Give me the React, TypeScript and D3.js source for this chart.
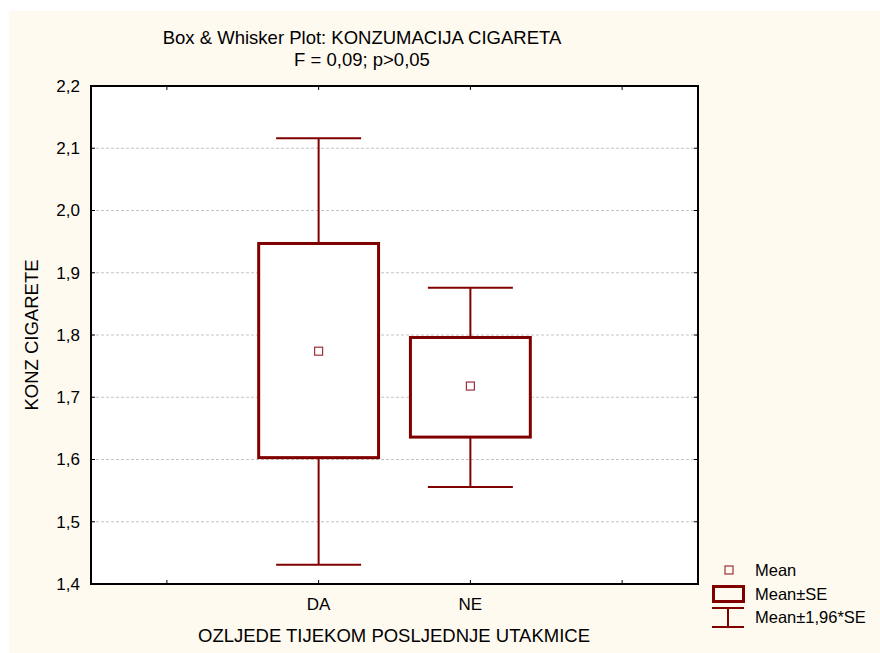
import * as d3 from "d3";

// values
const slots = ["", "DA", "NE", " "];
const groups = ["DA", "NE"];
const means = [1.774, 1.718];
const seLow = [1.603, 1.636];
const seHigh = [1.947, 1.796];
const ciLow = [1.431, 1.556];
const ciHigh = [2.116, 1.876];
const yTicks = [1.4, 1.5, 1.6, 1.7, 1.8, 1.9, 2.0, 2.1, 2.2];

const W = 880;
const H = 653;
const plot = { left: 91, right: 698, top: 86, bottom: 584 };
const red = "#800000";
const font = "'Liberation Sans', Arial, sans-serif";

const fmt = (v: number) => v.toFixed(1).replace(".", ",");

export default function App() {
  const x = d3.scaleBand<string>().domain(slots).range([plot.left, plot.right]);
  const y = d3.scaleLinear().domain([1.4, 2.2]).range([plot.bottom, plot.top]);
  const bw = x.bandwidth();
  const cx = (s: string) => (x(s) as number) + bw / 2;
  const boxW = bw * 0.79;
  const capW = bw * 0.56;

  return (
    <svg
      width={W}
      height={H}
      style={{ position: "absolute", left: 0, top: 0, fontFamily: font }}
    >
      <rect x={9} y={11} width={W - 9} height={H - 11} fill="#fffaf0" />
      <rect
        x={plot.left}
        y={plot.top}
        width={plot.right - plot.left}
        height={plot.bottom - plot.top}
        fill="#fff"
      />

      {/* grid */}
      {yTicks.slice(1, -1).map((t) => (
        <line
          key={t}
          x1={plot.left}
          x2={plot.right}
          y1={y(t)}
          y2={y(t)}
          stroke="#c4c4c4"
          strokeDasharray="3,2"
        />
      ))}

      {/* y ticks & labels */}
      {yTicks.map((t) => (
        <g key={"y" + t}>
          <line x1={plot.left} x2={plot.left + 4} y1={y(t)} y2={y(t)} stroke="#000" />
          <line x1={plot.right - 4} x2={plot.right} y1={y(t)} y2={y(t)} stroke="#000" />
          <text x={80} y={y(t)} dy="0.35em" textAnchor="end" fontSize={17} fill="#000">
            {fmt(t)}
          </text>
        </g>
      ))}

      {/* x ticks */}
      {slots.map((s) => (
        <g key={"x" + s}>
          <line x1={cx(s)} x2={cx(s)} y1={plot.bottom} y2={plot.bottom - 4} stroke="#000" />
          <line x1={cx(s)} x2={cx(s)} y1={plot.top} y2={plot.top + 4} stroke="#000" />
        </g>
      ))}
      {groups.map((g) => (
        <text key={"xl" + g} x={cx(g)} y={604} dy="0.35em" textAnchor="middle" fontSize={17}>
          {g}
        </text>
      ))}

      {/* boxes */}
      {groups.map((g, i) => (
        <g key={"b" + g}>
          <line x1={cx(g)} x2={cx(g)} y1={y(ciHigh[i])} y2={y(seHigh[i])} stroke={red} strokeWidth={2} />
          <line x1={cx(g)} x2={cx(g)} y1={y(seLow[i])} y2={y(ciLow[i])} stroke={red} strokeWidth={2} />
          <line x1={cx(g) - capW / 2} x2={cx(g) + capW / 2} y1={y(ciHigh[i])} y2={y(ciHigh[i])} stroke={red} strokeWidth={2} />
          <line x1={cx(g) - capW / 2} x2={cx(g) + capW / 2} y1={y(ciLow[i])} y2={y(ciLow[i])} stroke={red} strokeWidth={2} />
          <rect
            x={cx(g) - boxW / 2}
            y={y(seHigh[i])}
            width={boxW}
            height={y(seLow[i]) - y(seHigh[i])}
            fill="#fff"
            stroke={red}
            strokeWidth={3}
          />
          <rect x={cx(g) - 4} y={y(means[i]) - 4} width={8} height={8} fill="none" stroke="#a0303a" strokeWidth={1.2} />
        </g>
      ))}

      {/* frame */}
      <rect
        x={plot.left}
        y={plot.top}
        width={plot.right - plot.left}
        height={plot.bottom - plot.top}
        fill="none"
        stroke="#000"
        strokeWidth={2}
      />

      {/* titles */}
      <text x={362} y={38} dy="0.35em" textAnchor="middle" fontSize={18.5}>
        Box &amp; Whisker Plot: KONZUMACIJA CIGARETA
      </text>
      <text x={362} y={60} dy="0.35em" textAnchor="middle" fontSize={18.5}>
        F = 0,09; p&gt;0,05
      </text>
      <text x={394} y={636} dy="0.35em" textAnchor="middle" fontSize={18.5}>
        OZLJEDE TIJEKOM POSLJEDNJE UTAKMICE
      </text>
      <text
        transform={`translate(32,${(plot.top + plot.bottom) / 2}) rotate(-90)`}
        dy="0.35em"
        textAnchor="middle"
        fontSize={18.5}
      >
        KONZ CIGARETE
      </text>

      {/* legend */}
      <g fontSize={16.5}>
        <rect x={725} y={566} width={8} height={8} fill="none" stroke="#a0303a" strokeWidth={1.2} />
        <text x={755} y={570} dy="0.35em">Mean</text>
        <rect x={713.5} y={586.5} width={30} height={15} fill="none" stroke={red} strokeWidth={3} />
        <text x={755} y={594} dy="0.35em">Mean±SE</text>
        <line x1={712} x2={744} y1={608} y2={608} stroke={red} strokeWidth={2} />
        <line x1={712} x2={744} y1={627} y2={627} stroke={red} strokeWidth={2} />
        <line x1={728} x2={728} y1={608} y2={627} stroke={red} strokeWidth={2} />
        <text x={755} y={617} dy="0.35em">Mean±1,96*SE</text>
      </g>
    </svg>
  );
}
